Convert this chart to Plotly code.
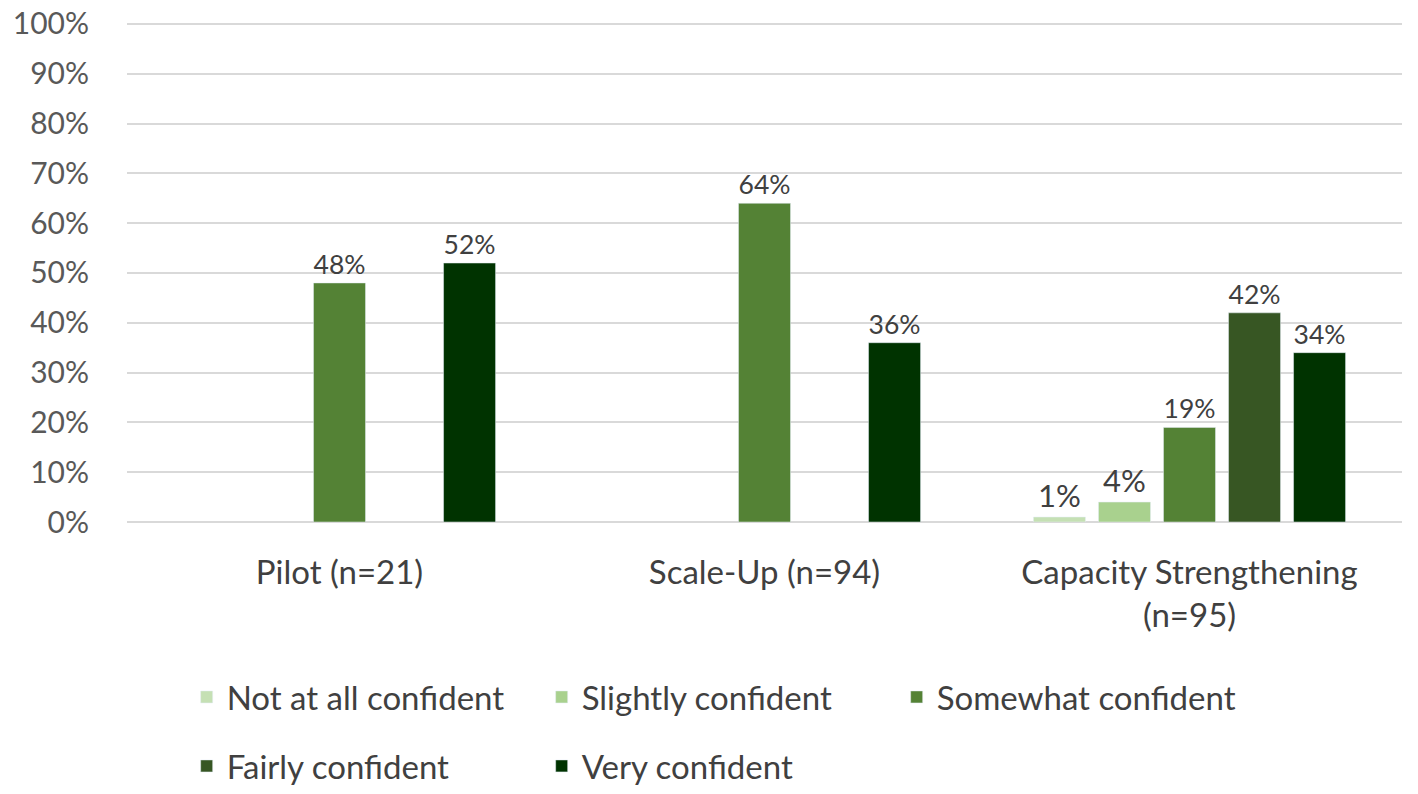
import plotly.graph_objects as go

categories = ["Pilot (n=21)", "Scale-Up (n=94)", "Capacity Strengthening<br>(n=95)"]
levels = ["Not at all confident", "Slightly confident", "Somewhat confident",
          "Fairly confident", "Very confident"]
colors = ["#c5e0b4", "#a9d18e", "#548235", "#375623", "#003300"]

# percentages per level, None where no bar is drawn
not_at_all = [None, None, 1]
slightly = [None, None, 4]
somewhat = [48, 64, 19]
fairly = [None, None, 42]
very = [52, 36, 34]
series = [not_at_all, slightly, somewhat, fairly, very]

# first three levels in the top legend row, last two in the second
legend_rows = ["legend", "legend", "legend", "legend2", "legend2"]

fig = go.Figure()
for name, vals, col, lg in zip(levels, series, colors, legend_rows):
    fig.add_trace(go.Bar(
        x=categories, y=vals, name=name, marker_color=col, legend=lg,
        text=[f"{v}%" if v is not None else "" for v in vals],
        textposition="outside", cliponaxis=False,
        textfont=dict(size=31, color="#404040"),
    ))

leg_common = dict(orientation="h", xref="container", yref="container",
                  x=0.126, xanchor="left", yanchor="middle",
                  font=dict(size=33, color="#404040"), entrywidth=310,
                  bgcolor="rgba(0,0,0,0)")

fig.update_layout(
    width=1418, height=794,
    barmode="group", bargap=0.235, bargroupgap=0.2,
    plot_bgcolor="white", paper_bgcolor="white",
    font=dict(family="Lato, Open Sans, sans-serif", color="#595959"),
    margin=dict(l=119, r=24, t=11, b=280, autoexpand=False),
    xaxis=dict(tickfont=dict(size=33, color="#404040"), showline=False, ticks="",
               ticklabelstandoff=28),
    yaxis=dict(range=[0, 101], tick0=0, dtick=10, ticksuffix="%",
               showgrid=True, ticklabeloverflow="allow",
               gridcolor="#d9d9d9", gridwidth=2, zeroline=True, zerolinecolor="#d9d9d9",
               zerolinewidth=2, tickfont=dict(size=30, color="#595959"),
               ticklabelstandoff=37),
    legend=dict(leg_common, y=1 - 689 / 794),
    legend2=dict(leg_common, y=1 - 758 / 794),
    showlegend=True,
)

fig.write_html("out.html")
